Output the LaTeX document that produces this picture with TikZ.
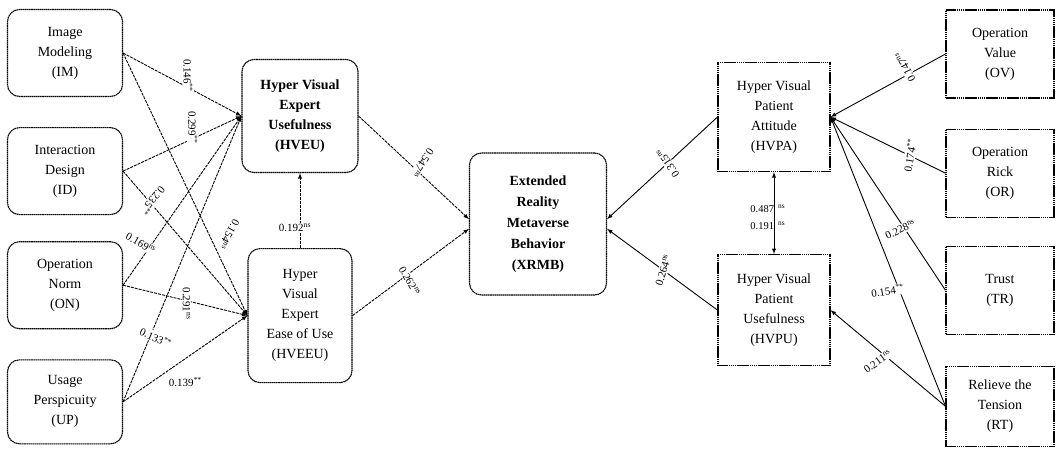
\documentclass[tikz,border=0pt]{standalone}
\usepackage{fontspec}
\setmainfont{Liberation Serif}
\usetikzlibrary{positioning,calc}

\newcommand{\nsig}{\textsuperscript{ns}}
\newcommand{\ssig}{\textsuperscript{**}}

\begin{document}
\begin{tikzpicture}[x=1pt,y=-1pt]
    \tikzset{construct/.style={
        draw, line width=1.1pt, dash pattern=on 1.6pt off 0.5pt, align=center,
        font=\fontsize{14}{20}\selectfont, inner sep=2pt
      },
      softbox/.style={construct, rounded corners=12pt},
      hardbox/.style={construct},
      link/.style={-latex, line width=0.9pt},
      leftlink/.style={link, dash pattern=on 3pt off 1pt},
      coef/.style={font=\fontsize{11}{12}\selectfont, fill=white, inner sep=1pt},
      coefplain/.style={font=\fontsize{10.5}{12}\selectfont, inner sep=0pt}
    }

    \useasboundingbox (0,0) rectangle (1060,448);

    % exogenous constructs, left column
    \node[softbox, minimum width=115pt, minimum height=87pt] (IM) at (65,53) {Image\\Modeling\\(IM)};
    \node[softbox, minimum width=115pt, minimum height=87pt] (ID) [below=30pt of IM] {Interaction\\Design\\(ID)};
    \node[softbox, minimum width=115pt, minimum height=87pt] (ON) [below=26pt of ID] {Operation\\Norm\\(ON)};
    \node[softbox, minimum width=115pt, minimum height=84pt] (UP) [below=30pt of ON] {Usage\\Perspicuity\\(UP)};

    % expert side
    \node[softbox, minimum width=116pt, minimum height=113pt, font=\fontsize{14}{20}\selectfont\bfseries] (HVEU) at (300,116) {Hyper Visual\\Expert\\Usefulness\\(HVEU)};
    \node[softbox, minimum width=104pt, minimum height=134pt] (HVEEU) [below=75pt of HVEU] {Hyper\\Visual\\Expert\\Ease of Use\\(HVEEU)};

    \node[softbox, minimum width=137pt, minimum height=142pt, font=\fontsize{14}{21}\selectfont\bfseries] (XRMB) at (538,224) {Extended\\Reality\\Metaverse\\Behavior\\(XRMB)};

    % patient side
    \node[hardbox, minimum width=112pt, minimum height=109pt] (HVPA) at (774,117) {Hyper Visual\\Patient\\Attitude\\(HVPA)};
    \node[hardbox, minimum width=112pt, minimum height=111pt] (HVPU) [below=82pt of HVPA] {Hyper Visual\\Patient\\Usefulness\\(HVPU)};

    \node[hardbox, minimum width=108pt, minimum height=88pt] (OV) at (1000,54) {Operation\\Value\\(OV)};
    \node[hardbox, minimum width=108pt, minimum height=88pt] (OR) [below=30pt of OV] {Operation\\Rick\\(OR)};
    \node[hardbox, minimum width=108pt, minimum height=88pt] (TR) [below=28pt of OR] {Trust\\(TR)};
    \node[hardbox, minimum width=108pt, minimum height=80pt] (RT) [below=31pt of TR] {Relieve the\\Tension\\(RT)};

    % paths into HVEU / HVEEU
    \draw[leftlink] (IM.east) -- (HVEU.west) node[coef, pos=0.55, yshift=12pt, rotate=-90] (w1) {0.146\ssig};
    \draw[leftlink] (ID.east) -- (HVEU.west) node[coef, pos=0.59, yshift=11pt, rotate=-90] (w2) {0.299\ssig};
    \draw[leftlink] (ON.east) -- (HVEU.west) node[coef, pos=0.2, xshift=-6pt, yshift=8pt, rotate=-30] (w3) {0.169\nsig};
    \draw[leftlink] (UP.east) -- (HVEU.west) node[coef, pos=0.225, xshift=6pt, rotate=-25] (w4) {0.133\ssig};

    \draw[leftlink] (IM.east) -- (HVEEU.west) node[coef, pos=0.69, xshift=20pt, rotate=-120] (w5) {0.154\nsig};
    \draw[leftlink] (ID.east) -- (HVEEU.west) node[coef, pos=0.24, yshift=5pt, rotate=-130] (w6) {0.235\ssig};
    \draw[leftlink] (ON.east) -- (HVEEU.west) node[coef, pos=0.51, yshift=-3pt, rotate=-90] (w7) {0.291\nsig};
    \draw[leftlink] (UP.east) -- (HVEEU.west) node[coef, pos=0.5, yshift=-23pt] (w8) {0.139\ssig};

    \draw[leftlink] (HVEEU.north) -- (HVEU.south) node[coef, pos=0.27, xshift=-5pt] (w9) {0.192\nsig};

    % paths into XRMB
    \draw[leftlink] (HVEU.east) -- (XRMB.176) node[coef, pos=0.58, yshift=13pt, rotate=-124] (w10) {0.547\nsig};
    \draw[leftlink] (HVEEU.east) -- (XRMB.184) node[coef, pos=0.49, yshift=-8pt, rotate=-60] (w11) {0.262\nsig};
    \draw[link] (HVPA.west) -- (XRMB.4) node[coef, pos=0.45, rotate=124] (w12) {0.315\nsig};
    \draw[link] (HVPU.west) -- (XRMB.-4) node[coef, pos=0.49, rotate=73] (w13) {0.264\nsig};

    \draw[latex-latex, line width=0.9pt] (HVPA.south) -- (HVPU.north)
      node[coefplain, pos=0.45, anchor=west, xshift=-24pt] (w14) {0.487\hspace{4pt}\nsig}
      node[coefplain, pos=0.65, anchor=west, xshift=-24pt] (w15) {0.191\hspace{4pt}\nsig};

    % paths into HVPA / HVPU
    \draw[link] (OV.west) -- (HVPA.east) node[coef, pos=0.35, yshift=9pt, rotate=117] (w16) {0.147\nsig};
    \draw[link] (OR.west) -- (HVPA.east) node[coef, pos=0.31, rotate=80] (w17) {0.174\ssig};
    \draw[link] (TR.west) -- (HVPA.east) node[coef, pos=0.35, xshift=-5pt, rotate=25] (w18) {0.228\nsig};
    \draw[link] (RT.west) -- (HVPA.east) node[coef, pos=0.4, xshift=-12pt, rotate=8] (w19) {0.154\ssig};
    \draw[link] (RT.west) -- (HVPU.east) node[coef, pos=0.59, yshift=-12pt, rotate=36] (w20) {0.211\nsig};
\end{tikzpicture}
\end{document}
